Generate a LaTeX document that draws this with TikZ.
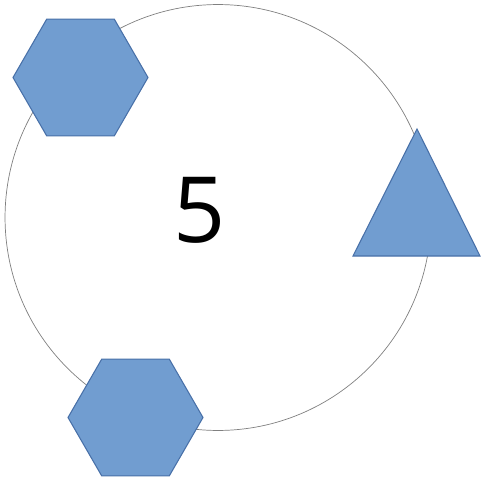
\documentclass[tikz,border=0pt]{standalone}
\usepackage{fontspec}
\setsansfont{Open Sans}
\usepackage{tikz}
\usetikzlibrary{shapes.geometric}
\definecolor{hexfill}{RGB}{113,157,208}
\definecolor{hexline}{RGB}{72,112,168}
\begin{document}
\begin{tikzpicture}[x=0.02cm,y=-0.02cm]
  \tikzset{blueshape/.style={fill=hexfill, draw=hexline, line width=0.6pt}}
  \useasboundingbox (0,0) rectangle (480,483);

  \begin{scope}

  \node[circle, draw=black!50, line width=0.4pt, inner sep=0pt, minimum size=8.52cm] (ring) at (218,217.5) {};

  \node[regular polygon, regular polygon sides=6, blueshape, inner sep=0pt, minimum size=2.7cm] (h1) at (80.5,77.5) {};
  \node[regular polygon, regular polygon sides=6, blueshape, inner sep=0pt, minimum size=2.7cm] (h2) at (135.5,417.5) {};

  \coordinate (t1) at (417,129);
  \coordinate (t2) at (480,256);
  \coordinate (t3) at (353,256);
    \draw[blueshape] (t1) -- (t2) -- (t3) -- cycle;

      \node (num) at (200,210.5) {\sffamily\fontsize{52}{60}\selectfont 5};

  \end{scope}
\end{tikzpicture}
\end{document}
